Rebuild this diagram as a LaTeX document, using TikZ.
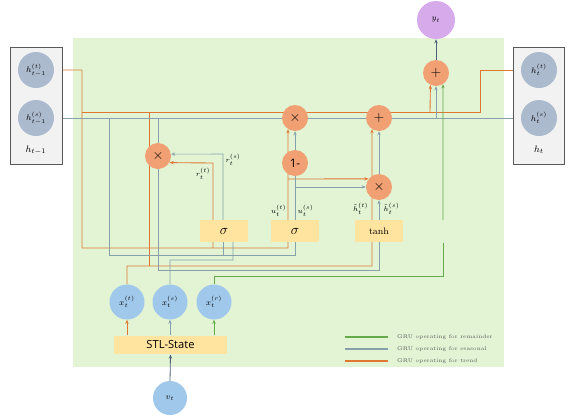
\documentclass[tikz,border=0pt]{standalone}
\usepackage{fontspec}
\setsansfont{Open Sans}
\usetikzlibrary{arrows.meta}
\pgfdeclarelayer{bgrect}
\pgfdeclarelayer{lines}
\pgfsetlayers{bgrect,lines,main}
\definecolor{orL}{RGB}{222,120,50}
\definecolor{gyL}{RGB}{135,160,172}
\definecolor{grL}{RGB}{100,170,75}
\definecolor{opC}{RGB}{240,160,115}
\definecolor{hC}{RGB}{172,186,206}
\definecolor{xC}{RGB}{160,200,235}
\definecolor{gC}{RGB}{255,228,160}
\definecolor{yC}{RGB}{215,170,235}
\definecolor{bgG}{RGB}{226,244,212}
\definecolor{boxF}{RGB}{242,242,242}
\definecolor{dkL}{RGB}{80,95,120}
\definecolor{txtC}{RGB}{90,90,90}
\begin{document}
\begin{tikzpicture}[x=0.03cm,y=-0.03cm,
  orl/.style={draw=orL, line width=0.75pt},
  gyl/.style={draw=gyL, line width=0.5pt},
  grl/.style={draw=grL, line width=0.75pt},
  dkl/.style={draw=dkL, line width=0.7pt},
  arr/.style={-{Stealth[length=3.5pt,width=2.8pt]}},
  hbox/.style={rectangle, fill=boxF, draw=black!65, line width=0.7pt, minimum width=1.54cm, minimum height=3.51cm, inner sep=0pt},
  hcirc/.style={circle, fill=hC, minimum size=1.08cm, inner sep=0pt, font=\scriptsize},
  op/.style={circle, fill=opC, minimum size=0.78cm, inner sep=0pt, font=\large},
  xcirc/.style={circle, fill=xC, minimum size=1.05cm, inner sep=0pt, font=\scriptsize},
  gate/.style={rectangle, fill=gC, minimum width=1.46cm, minimum height=0.66cm, inner sep=0pt},
  lab/.style={font=\fontsize{6.5}{7}\selectfont, inner sep=0.3pt},
  legtxt/.style={font=\fontsize{4.6}{5}\selectfont, text=txtC, anchor=west, inner sep=0pt},
  legline/.style={line width=0.9pt},
]
\useasboundingbox (0,0) rectangle (570,415);

% side boxes
\node[hbox] (lb) at (36.5,105.5) {};
\node[hbox] (rb) at (539,105.5) {};
\node[hcirc] (hT) at (36,70) {$h^{(t)}_{t-1}$};
\node[hcirc] (hS) at (36,118) {$h^{(s)}_{t-1}$};
\node[font=\footnotesize, inner sep=0pt] (lbl) at (36,150) {$h_{t-1}$};
\node[hcirc] (hTo) at (539,70) {$h^{(t)}_{t}$};
\node[hcirc] (hSo) at (539,118) {$h^{(s)}_{t}$};
\node[font=\footnotesize, inner sep=0pt] (rbl) at (539,150) {$h_{t}$};

% operators
\node[circle, fill=yC, minimum size=1.14cm, inner sep=0pt, font=\scriptsize] (yt) at (436,20) {$y_t$};
\node[op] (tp) at (436,73) {$+$};
\node[op] (xm) at (295,118) {$\times$};
\node[op] (pm) at (379,118) {$+$};
\node[op] (xl) at (158,156) {$\times$};
\node[op, font=\sffamily\normalsize] (om) at (295,163) {1-};
\node[op] (xr) at (379,187) {$\times$};

% gates
\node[gate, font=\large] (s1) at (224,231) {$\sigma$};
\node[gate, font=\large] (s2) at (295,231) {$\sigma$};
\node[gate, font=\footnotesize] (th) at (379,231) {tanh};

% inputs
\node[xcirc] (xt) at (127,302) {$x^{(t)}_t$};
\node[xcirc] (xs) at (170,302) {$x^{(s)}_t$};
\node[xcirc] (xR) at (214,302) {$x^{(r)}_t$};
\node[rectangle, fill=gC, minimum width=3.39cm, minimum height=0.56cm, inner sep=0pt, font=\sffamily\fontsize{9.5}{11}\selectfont] (stl) at (170.5,345) {STL-State};
\node[circle, fill=xC, minimum size=1.02cm, inner sep=0pt, font=\scriptsize] (vt) at (170,398) {$v_t$};

% labels
\node[lab, anchor=east] (lrt) at (211,174) {$r^{(t)}_t$};
\node[lab, anchor=west] (lrs) at (225,160) {$r^{(s)}_t$};
\node[lab, anchor=south east] (lut) at (287,217) {$u^{(t)}_t$};
\node[lab, anchor=south west] (lus) at (297,217) {$u^{(s)}_t$};
\node[lab, anchor=south east] (lht) at (369,215) {$\tilde{h}^{(t)}_t$};
\node[lab, anchor=south west] (lhs) at (383,215) {$\tilde{h}^{(s)}_t$};

\begin{pgfonlayer}{bgrect}
\fill[bgG] (73,38) rectangle (504,367);
\end{pgfonlayer}

\begin{pgfonlayer}{lines}
% trend (orange)
\draw[orl] (hT.east) -- (82,70) -- (82,248) -- (288,248) -- ([xshift=-0.21cm]s2.south);
\draw[orl] (213,248) -- ([xshift=-0.33cm]s1.south);
\draw[orl,arr] (82,112) -- (480,112) -- (480,70) -- (hTo.west);
\draw[orl,arr] (430,112) -- (tp.-115);
\draw[orl] (149.5,112) -- (149.5,266);
\draw[orl] (xt.north) -- (127,266) -- (372,266) -- ([xshift=-0.21cm]th.south);
\draw[orl,arr] ([xshift=-0.33cm]s1.north) -- (213,163) -- (xl.-30);
\draw[orl,arr] ([xshift=-0.21cm]s2.north) -- (xm.-122);
\draw[orl,arr] (288,179) -- (xr.142);
\draw[orl,arr] ([xshift=-0.21cm]th.north) -- (pm.-122);
\draw[orl,arr] (xt.south |- stl.north) -- (xt.south);
% seasonal (grey)
\draw[gyl,arr] (hS.east) -- (hSo.west);
\draw[gyl] (109,118) -- (109,255) -- (295,255) -- (s2.south);
\draw[gyl] (223,255) -- ([xshift=-0.03cm]s1.south);
\draw[gyl] (xs.north) -- (170,260) -- (233,260) -- ([xshift=0.27cm]s1.south);
\draw[gyl] (158,118) -- (xl.north);
\draw[gyl] (xl.south) -- (158,270) -- (379,270) -- (th.south);
\draw[gyl,arr] ([xshift=-0.03cm]s1.north) -- (223,154) -- (xl.8);
\draw[gyl,arr] (s2.north) -- (xm.south);
\draw[gyl,arr] (295,187) -- (xr.west);
\draw[gyl,arr] (th.north) -- (xr.south);
\draw[gyl,arr] (xr.north) -- (pm.south);
\draw[gyl,arr] (436,118) -- (tp.south);
\draw[gyl,arr] (xs.south |- stl.north) -- (xs.south);
% remainder (green)
\draw[grl] (xR.north) -- (214,276) -- (443,276) -- (443,243);
\draw[grl,arr] (443,220) -- (tp.-58);
\draw[grl,arr] (xR.south |- stl.north) -- (xR.south);
% output / input
\draw[dkl,arr] (tp.north) -- (yt.south);
\draw[dkl,arr] (vt.north) -- (stl.south);
\end{pgfonlayer}

% legend
\draw[legline, draw=grL] (345,337) -- (388,337);
\draw[legline, draw=gyL] (345,349) -- (388,349);
\draw[legline, draw=orL] (345,361) -- (388,361);
\node[legtxt] (lg1) at (397,337) {GRU operating for remainder};
\node[legtxt] (lg2) at (397,349) {GRU operating for seasonal};
\node[legtxt] (lg3) at (397,361) {GRU operating for trend};
\end{tikzpicture}
\end{document}
